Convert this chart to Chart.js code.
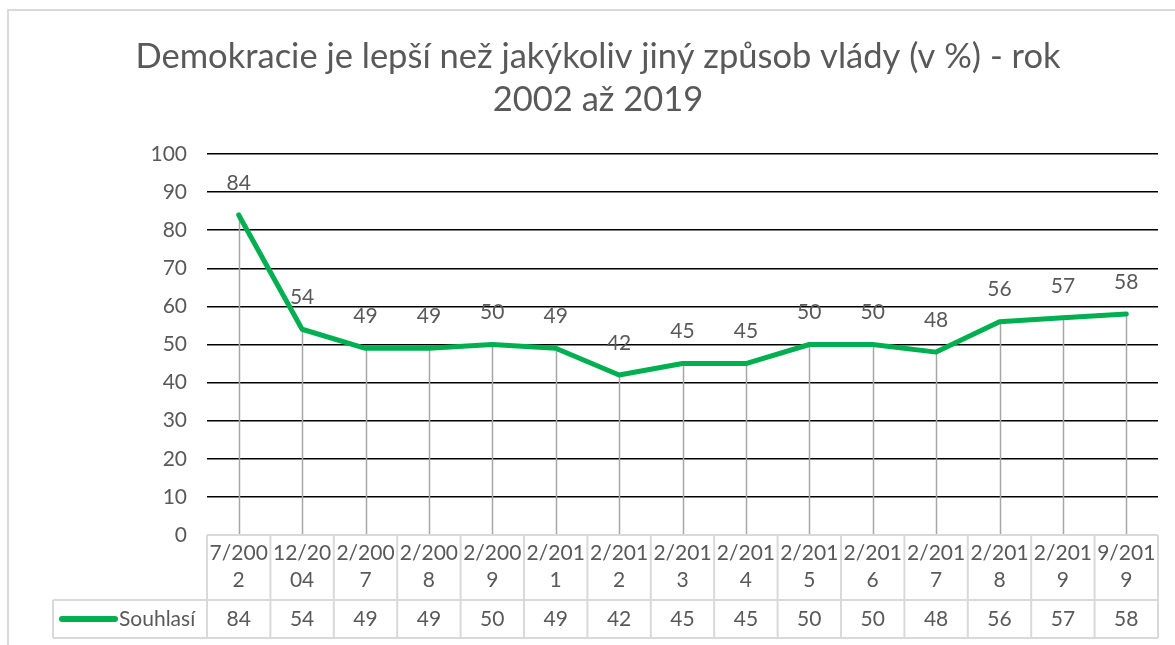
<!DOCTYPE html>
<html><head><meta charset="utf-8">
<script src="https://cdn.jsdelivr.net/npm/chart.js@4"></script>
<style>html,body{margin:0;padding:0;background:#fff;}#wrap{width:1175px;height:645px;position:relative;}</style>
</head><body><div id="wrap"><canvas id="c" width="1175" height="645"></canvas></div>
<script>
const titleLines = ["Demokracie je lepší než jakýkoliv jiný způsob vlády (v %) - rok", "2002 až 2019"];
const categories = ["7/2002","12/2004","2/2007","2/2008","2/2009","2/2011","2/2012","2/2013","2/2014","2/2015","2/2016","2/2017","2/2018","2/2019","9/2019"];
const seriesName = "Souhlasí";
const values = [84,54,49,49,50,49,42,45,45,50,50,48,56,57,58];
const yTicks = [0,10,20,30,40,50,60,70,80,90,100];

const FONT = "Lato, 'Open Sans', sans-serif";
const TXT = "#595959";
const GREEN = "#00b050";
const TBL = "#d9d9d9";
const FS = 21;

function wrapLabel(s){ const out=[]; for(let i=0;i<s.length;i+=5) out.push(s.slice(i,i+5)); return out; }

const deco = {
  id:'deco',
  beforeDraw(chart){
    const ctx=chart.ctx;
    ctx.save();
    ctx.fillStyle='#fff'; ctx.fillRect(0,0,chart.width,chart.height);
    ctx.strokeStyle=TBL; ctx.lineWidth=2;
    ctx.strokeRect(8,10,1200,700);
    ctx.fillStyle=TXT; ctx.textAlign='center'; ctx.textBaseline='middle';
    ctx.font="34.5px "+FONT;
    ctx.fillText(titleLines[0],598,57);
    ctx.fillText(titleLines[1],598,100);
    ctx.restore();
  },
  beforeDatasetsDraw(chart){
    const ctx=chart.ctx, meta=chart.getDatasetMeta(0), a=chart.chartArea;
    ctx.save(); ctx.strokeStyle='#a6a6a6'; ctx.lineWidth=1.5;
    meta.data.forEach(p=>{ ctx.beginPath(); ctx.moveTo(Math.round(p.x)+0.5,p.y); ctx.lineTo(Math.round(p.x)+0.5,a.bottom); ctx.stroke(); });
    ctx.restore();
  },
  afterDatasetsDraw(chart){
    const ctx=chart.ctx, meta=chart.getDatasetMeta(0);
    ctx.save(); ctx.fillStyle=TXT; ctx.font=FS+"px "+FONT; ctx.textAlign='center'; ctx.textBaseline='middle';
    meta.data.forEach((p,i)=>{ ctx.fillText(String(values[i]),p.x,p.y-32); });
    ctx.restore();
  },
  afterDraw(chart){
    const ctx=chart.ctx, a=chart.chartArea, xs=chart.scales.x;
    const n=categories.length, w=(a.right-a.left)/n;
    const top=a.bottom, mid=top+65, bot=mid+38, legL=53;
    ctx.save();
    ctx.strokeStyle=TBL; ctx.lineWidth=2;
    ctx.beginPath();
    ctx.moveTo(a.left,top); ctx.lineTo(a.right,top);
    ctx.moveTo(legL,mid); ctx.lineTo(a.right,mid);
    ctx.moveTo(legL,bot); ctx.lineTo(a.right,bot);
    ctx.moveTo(legL,mid); ctx.lineTo(legL,bot);
    for(let i=0;i<=n;i++){ const x=a.left+i*w; ctx.moveTo(x,top); ctx.lineTo(x,bot); }
    ctx.stroke();
    ctx.fillStyle=TXT; ctx.font=FS+"px "+FONT; ctx.textAlign='center'; ctx.textBaseline='middle';
    categories.forEach((c,i)=>{
      const x=xs.getPixelForValue(i);
      const lines=wrapLabel(c);
      lines.forEach((l,j)=>ctx.fillText(l,x,top+18+j*27));
      ctx.fillText(String(values[i]),x,mid+19);
    });
    ctx.strokeStyle=GREEN; ctx.lineWidth=6; ctx.lineCap='round';
    ctx.beginPath(); ctx.moveTo(62,mid+19); ctx.lineTo(115,mid+19); ctx.stroke();
    ctx.textAlign='left'; ctx.fillText(seriesName,119,mid+19);
    ctx.restore();
  }
};

new Chart(document.getElementById('c'),{
  type:'line',
  data:{labels:categories,datasets:[{label:seriesName,data:values,borderColor:GREEN,borderWidth:5,pointRadius:0,tension:0,borderJoinStyle:'round',borderCapStyle:'round'}]},
  options:{
    responsive:false,animation:false,
    layout:{padding:{left:0,right:17,top:154,bottom:110}},
    plugins:{legend:{display:false},title:{display:false},tooltip:{enabled:false}},
    scales:{
      x:{display:false,offset:true},
      y:{min:0,max:100,afterBuildTicks(s){s.ticks=yTicks.map(v=>({value:v}));},
         afterFit(s){s.width=207;},
         border:{display:false},
         grid:{drawTicks:false,color:c=>c.tick&&c.tick.value===0?'rgba(0,0,0,0)':'#000',lineWidth:1.6},
         ticks:{padding:20,color:TXT,font:{family:FONT,size:FS}}}
    }
  },
  plugins:[deco]
});
</script></body></html>
